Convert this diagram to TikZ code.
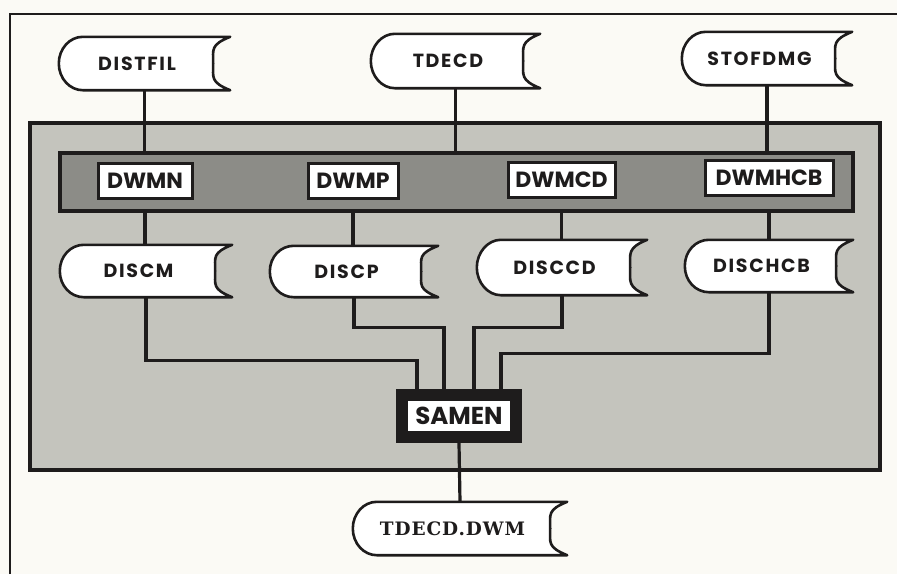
\documentclass[tikz,border=0pt]{standalone}
\usepackage{fontspec}
\setmainfont{Poppins}
\newfontfamily\slabfont[LetterSpace=5]{DejaVu Serif}
\newfontfamily\filefont[LetterSpace=9]{Poppins}
\pgfdeclarelayer{back}
\pgfdeclarelayer{lines}
\pgfdeclarelayer{files}
\pgfsetlayers{back,lines,files,main}
\definecolor{ink}{RGB}{30,28,28}
\definecolor{paper}{RGB}{251,250,245}
\definecolor{shade}{RGB}{196,196,189}
\definecolor{bandgray}{RGB}{140,140,135}
\tikzset{
  conn/.style={draw=ink, line width=3.2pt},
  fileline/.style={draw=ink, line width=2.6pt, fill=white, line join=round},
  filetext/.style={inner sep=0pt, font=\filefont\bfseries\fontsize{19}{21}\selectfont, text=ink},
  modbox/.style={draw=ink, line width=3pt, fill=white, inner sep=0pt, minimum height=35pt, font=\bfseries\fontsize{22}{24}\selectfont, text=ink},
  fileoutline/.style={insert path={
     ([xshift=24pt]#1.north west) -- (#1.north east)
     .. controls +(-20,8) and +(0,-14) .. ([xshift=-17pt]#1.east)
     .. controls +(0,14) and +(-20,-8) .. (#1.south east)
     -- ([xshift=24pt]#1.south west)
     .. controls +(-13,0) and +(0,15) .. (#1.west)
     .. controls +(0,-15) and +(-13,0) .. cycle}},
}
\newcommand\datafile[6]{%
  \node[filetext, minimum width=#4pt, minimum height=#5pt] (#1) at (#2,#3) {#6\hspace*{15pt}};
  \begin{pgfonlayer}{files}
  \draw[fileline, fileoutline=#1];
  \end{pgfonlayer}
}
\begin{document}
\begin{tikzpicture}[x=1pt,y=-1pt]
\useasboundingbox (0,0) rectangle (897,574);
\begin{pgfonlayer}{back}
  \fill[paper] (0,0) rectangle (897,574);
  \draw[ink, line width=2pt] (10,574) -- (10,14) -- (897,14);
  \draw[ink, line width=4pt, fill=shade] (30,123) rectangle (880,470);
  \node[draw=ink, line width=4.5pt, fill=bandgray, minimum width=793pt, minimum height=58pt, inner sep=0pt] (band) at (456.5,182) {};
\end{pgfonlayer}

% top files
\datafile{DISTFIL}{144.5}{63.5}{171}{53}{DISTFIL}
\datafile{TDECD}{455.5}{61}{169}{54}{TDECD}
\datafile{STOFDMG}{767}{58.5}{170}{53}{STOFDMG}

% module boxes in band
\node[modbox, minimum width=94pt] (DWMN) at (145,181) {DWMN};
\node[modbox, minimum width=90pt] (DWMP) at (353,181) {DWMP};
\node[modbox, minimum width=107pt] (DWMCD) at (561.5,180) {DWMCD};
\node[modbox, minimum width=128pt] (DWMHCB) at (769,178) {DWMHCB};

% middle files
\datafile{DISCM}{146}{271}{172}{52}{DISCM}
\datafile{DISCP}{354}{271.5}{168}{51}{DISCP}
\datafile{DISCCD}{562}{267.5}{170}{55}{DISCCD}
\datafile{DISCHCB}{769}{266}{168}{52}{DISCHCB}

% SAMEN
\node[draw=ink, line width=12pt, fill=white, inner sep=0pt, minimum width=114pt, minimum height=42pt,
      font=\bfseries\fontsize{24.5}{26}\selectfont, text=ink] (SAMEN) at (459,416) {SAMEN};

% output file
\node[filetext, minimum width=214pt, minimum height=53pt, font=\slabfont\bfseries\fontsize{18.5}{20}\selectfont] (tdecddwm) at (460,528.5) {TDECD.DWM\hspace*{15pt}};
\begin{pgfonlayer}{files}
  \draw[fileline, fileoutline=tdecddwm];
\end{pgfonlayer}

% connectors
\begin{pgfonlayer}{lines}
  \draw[conn] (DISTFIL.south) -- (DISTFIL.south |- band.north);
  \draw[conn] (TDECD.south) -- (TDECD.south |- band.north);
  \draw[conn] (STOFDMG.south) -- (STOFDMG.south |- band.north);
  \draw[conn] (DWMN.south |- band.south) -- (DWMN.south |- DISCM.north);
  \draw[conn] (DWMP.south |- band.south) -- (DWMP.south |- DISCP.north);
  \draw[conn] (DWMCD.south |- band.south) -- (DWMCD.south |- DISCCD.north);
  \draw[conn] (DWMHCB.south |- band.south) -- (DWMHCB.south |- DISCHCB.north);
  \draw[conn] (DISCM.south) -- ++(0,63) -| ([xshift=-42pt]SAMEN.north);
  \draw[conn] (DISCP.south) -- ++(0,30) -| ([xshift=-15pt]SAMEN.north);
  \draw[conn] (DISCCD.south) -- ++(0,32) -| ([xshift=15pt]SAMEN.north);
  \draw[conn] (DISCHCB.south) -- ++(0,61) -| ([xshift=42pt]SAMEN.north);
  \draw[conn] (SAMEN.south) -- (tdecddwm.north);
\end{pgfonlayer}
\end{tikzpicture}
\end{document}
